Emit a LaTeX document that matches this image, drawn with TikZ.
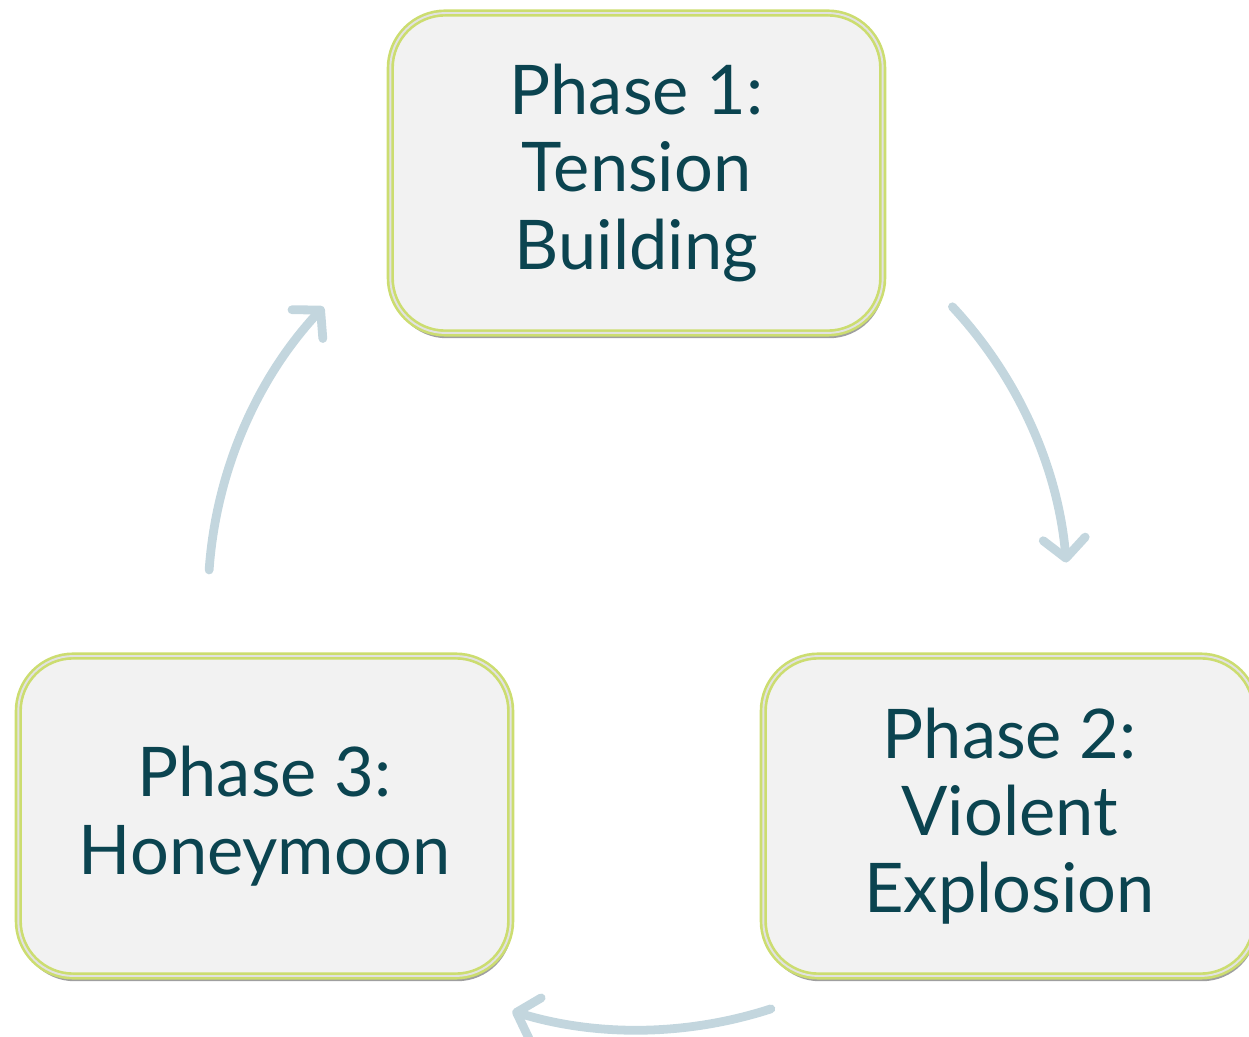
\documentclass[tikz,border=0pt]{standalone}
\usepackage{fontspec}
\setmainfont{Lato}
\usepackage{tikz}
\usetikzlibrary{arrows.meta}
\usetikzlibrary{shadows}
\usepackage{xcolor}
\definecolor{phasefill}{HTML}{F2F2F2}
\definecolor{phaseline}{HTML}{CCDD70}
\definecolor{phasegap}{HTML}{E2E2E2}
\definecolor{phasetext}{HTML}{0B4450}
\definecolor{cyclearrow}{HTML}{C3D6DE}

\begin{document}
\begin{tikzpicture}[x=0.02cm,y=0.02cm,
    phase/.style={draw=phaseline, line width=1.5pt, double=phasegap, double distance=1.1pt,
        fill=phasefill, rounded corners=1.1cm, minimum width=9.85cm, minimum height=6.4cm,
        align=center, text=phasetext, font=\fontsize{39}{44}\selectfont,
        drop shadow={shadow xshift=0.8pt, shadow yshift=-3pt, opacity=0.5, fill=black!75}},
    cycle/.style={draw=cyclearrow, line width=5pt, line cap=round,
        -{Straight Barb[length=11pt, width=24pt, round]}}]
    \useasboundingbox (0,0) rectangle (1249,1036);
    \node[phase] (phase1) at (636.5,863) {Phase 1:\\Tension\\Building};
    \node[phase] (phase2) at (1009.5,220) {Phase 2:\\Violent\\Explosion};
    \node[phase] (phase3) at (264.5,220) {Phase 3:\\Honeymoon};
    \coordinate (hub) at (638,436);
    \draw[cycle] (hub) ++(43:8.6cm) arc[start angle=43, end angle=5, radius=8.6cm];
    \draw[cycle] (hub) ++(-72:8.6cm) arc[start angle=-72, end angle=-107, radius=8.6cm];
    \draw[cycle] (hub) ++(176:8.6cm) arc[start angle=176, end angle=137, radius=8.6cm];
\end{tikzpicture}
\end{document}
